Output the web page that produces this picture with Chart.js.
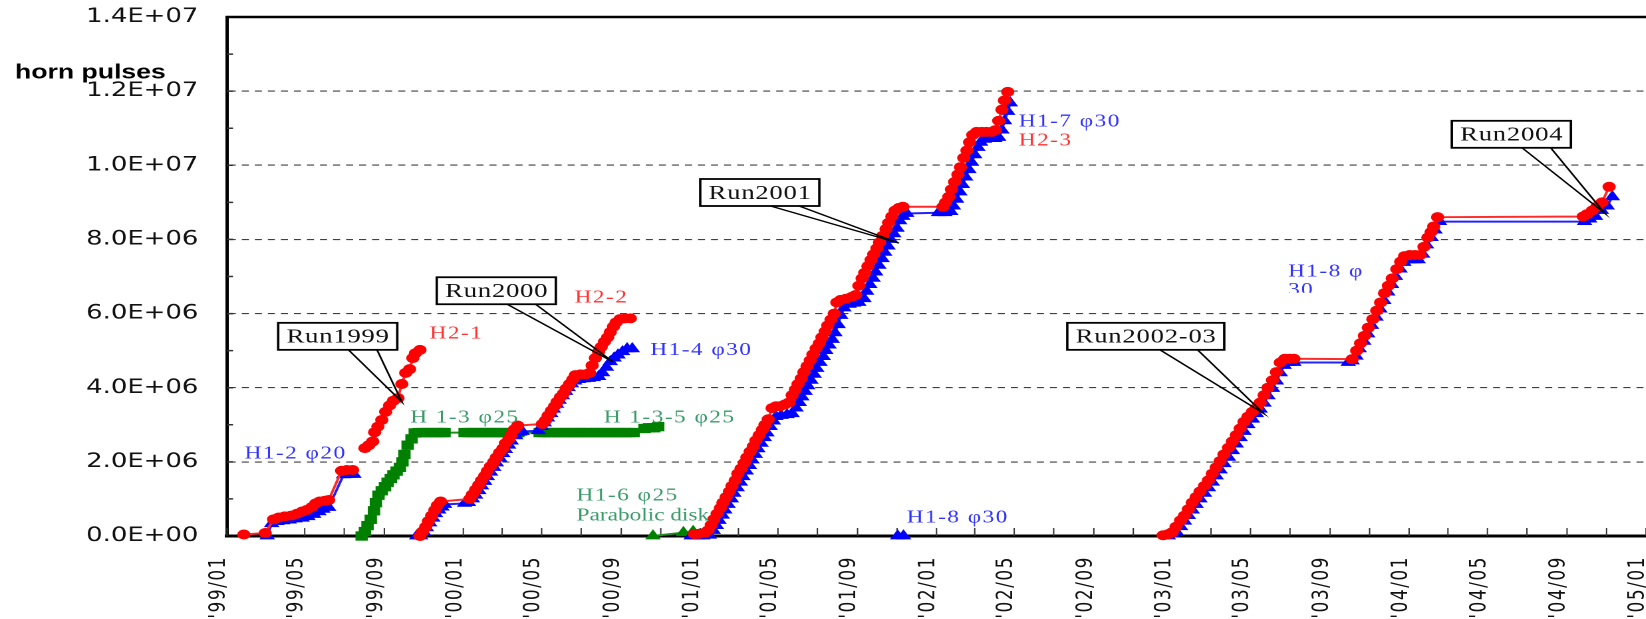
<!DOCTYPE html>
<html>
<head>
<meta charset="utf-8">
<script src="https://cdn.jsdelivr.net/npm/chart.js@4.4.1/dist/chart.umd.min.js"></script>
<style>
	html, body { margin: 0; padding: 0; background: #fff; overflow: hidden; }
	#wrap { width: 1260px; height: 619px; transform: scaleX(1.33); transform-origin: 0 0; }
</style>
</head>
<body>
<div id="wrap"><canvas id="pulses" width="1260" height="619"></canvas></div>
<script>
// x = days since 1999-01-01, y = accumulated horn pulses in units of 10^6
const h2_1 = [[26,0.04],[59,0.08],[72,0.45],[80,0.50],[89,0.53],[99,0.55],[108,0.60],[116,0.66],[123,0.70],[131,0.78],[137,0.88],[143,0.93],[151,0.95],[157,0.97],[177,1.76],[185,1.78],[194,1.78],[204,null],
	[213,2.37],[219,2.45],[225,2.55],[228,2.80],[233,2.95],[239,3.13],[245,3.35],[251,3.52],[257,3.65],[264,3.72],[270,4.10],[276,4.40],[282,4.50],[287,4.80],[291,4.93],[298,5.02]];
const h1_2 = [[62,0],[69,0.33],[77,0.39],[86,0.41],[96,0.43],[105,0.46],[116,0.48],[125,0.52],[134,0.58],[142,0.65],[148,0.72],[157,0.77],[180,1.65],[188,1.66],[196,1.66]];
const h1_3 = [[208,0],[213,0.12],[217,0.28],[222,0.45],[227,0.68],[230,0.9],[234,1.1],[239,1.22],[244,1.33],[248,1.45],[253,1.55],[257,1.65],[262,1.75],[267,1.85],[271,2.0],[274,2.2],[279,2.45],[285,2.62],[290,2.78],
	[296,2.79],[302,2.79],[308,2.79],[315,2.79],[321,2.79],[327,2.79],[333,2.79],[336,2.79],
	[367,2.79],[373,2.79],[379,2.79],[385,2.79],[392,2.79],[398,2.79],[404,2.79],[410,2.79],[416,2.79],[422,2.79],[429,2.79],[435,2.79],[441,2.79],[447,2.79],[450,2.79],
	[483,2.79],[489,2.79],[495,2.79],[501,2.79],[507,2.79],[513,2.79],[520,2.79],[526,2.79],[532,2.79],[538,2.79],[544,2.79],[547,2.79],
	[554,2.79],[560,2.79],[566,2.79],[572,2.79],[578,2.79],[584,2.79],[591,2.79],[597,2.79],[603,2.79],[609,2.79],[615,2.79],[621,2.79],[628,2.79],
	[645,2.90],[652,2.92],[660,2.92],[666,2.95]];
const h2_2 = [[298,0],[302,0.12],[307,0.25],[311,0.4],[316,0.55],[321,0.7],[325,0.83],[330,0.93],[375,1.0],[379,1.12],[384,1.25],[389,1.38],[393,1.5],[398,1.62],[402,1.75],[407,1.88],[412,2.0],[416,2.12],[421,2.25],[426,2.36],[430,2.5],[435,2.6],[439,2.72],[444,2.88],[449,2.98],
	[487,3.02],[492,3.12],[496,3.25],[501,3.38],[506,3.5],[510,3.62],[515,3.75],[520,3.85],[524,3.98],[529,4.1],[534,4.22],[538,4.34],[546,4.36],[554,4.36],[560,4.4],[564,4.6],[569,4.8],[574,4.97],[578,5.1],[583,5.24],[588,5.36],[592,5.5],[597,5.65],[601,5.76],[607,5.85],[615,5.87],[623,5.87]];
const h1_4 = [[293,0],[299,0],[304,0.1],[308,0.22],[313,0.35],[318,0.48],[322,0.6],[327,0.7],[332,0.78],[336,0.85],[367,0.88],[373,0.9],[379,1.0],[384,1.1],[389,1.22],[393,1.35],[398,1.47],[402,1.6],[407,1.72],[412,1.85],[416,1.97],[421,2.1],[426,2.22],[430,2.33],[435,2.45],[439,2.56],[446,2.7],[452,2.8],[456,2.82],
	[481,2.84],[486,2.95],[490,3.05],[495,3.18],[500,3.3],[504,3.42],[509,3.55],[513,3.66],[518,3.78],[523,3.9],[527,4.0],[532,4.1],[537,4.18],[543,4.22],[550,4.24],[558,4.25],[566,4.27],[574,4.3],[580,4.4],[586,4.55],[592,4.7],[598,4.8],[604,4.88],[611,4.97],[618,5.05],[626,5.05]];
const h1_6 = [[658,0],[705,0.09],[720,0.12]];
const h2_3 = [[722,0.05],[729,0.06],[737,0.08],[743,0.15],[748,0.3],[752,0.45],[757,0.6],[762,0.75],[766,0.9],[771,1.05],[776,1.2],[780,1.35],[785,1.5],[789,1.68],[794,1.82],[799,1.97],[803,2.12],[808,2.28],[813,2.42],[817,2.58],[822,2.72],[827,2.87],[831,3.0],[836,3.15],[842,3.45],[848,3.5],[854,3.5],[862,3.55],[868,3.6],
	[873,3.8],[878,3.95],[882,4.1],[887,4.25],[891,4.42],[896,4.58],[901,4.74],[905,4.9],[910,5.06],[915,5.2],[919,5.36],[924,5.52],[928,5.68],[933,5.84],[938,6.0],[942,6.3],[948,6.37],[956,6.4],[965,6.45],[971,6.5],
	[976,6.75],[981,6.95],[985,7.1],[990,7.28],[995,7.45],[999,7.6],[1004,7.76],[1008,7.92],[1013,8.1],[1018,8.28],[1022,8.45],[1027,8.62],[1032,8.78],[1038,8.85],[1044,8.88],[1106,8.88],
	[1110,9.0],[1115,9.15],[1119,9.35],[1124,9.55],[1129,9.75],[1133,9.95],[1138,10.2],[1143,10.4],[1147,10.62],[1152,10.82],[1158,10.9],[1166,10.9],[1173,10.9],[1181,10.9],[1187,10.95],[1192,11.2],[1197,11.5],[1201,11.75],[1206,11.98]];
const h1_7 = [[717,0],[726,0],[735,0],[745,0.02],[751,0.15],[756,0.28],[760,0.42],[765,0.56],[769,0.7],[774,0.85],[779,1.0],[783,1.15],[788,1.3],[793,1.45],[797,1.6],[802,1.75],[807,1.9],[811,2.05],[816,2.2],[820,2.35],[825,2.5],[830,2.65],[834,2.78],[839,2.95],[844,3.1],[848,3.22],[856,3.25],[865,3.27],[873,3.3],
	[879,3.45],[884,3.6],[888,3.75],[893,3.9],[897,4.05],[902,4.2],[907,4.36],[911,4.52],[916,4.68],[921,4.84],[925,5.0],[930,5.15],[935,5.3],[939,5.48],[944,5.7],[948,5.95],[953,6.15],[961,6.25],[968,6.28],[976,6.3],
	[984,6.4],[988,6.6],[993,6.78],[998,6.95],[1002,7.12],[1007,7.3],[1012,7.48],[1016,7.65],[1021,7.82],[1025,8.0],[1030,8.15],[1035,8.3],[1039,8.5],[1044,8.62],[1050,8.7],[1099,8.72],[1109,8.72],[1118,8.75],
	[1122,8.9],[1127,9.08],[1132,9.28],[1136,9.48],[1141,9.68],[1146,9.88],[1150,10.08],[1155,10.28],[1160,10.48],[1164,10.62],[1170,10.7],[1178,10.72],[1186,10.72],[1192,10.75],[1197,10.95],[1201,11.2],[1206,11.45],[1210,11.68]];
const h2_2003 = [[1446,0.02],[1454,0.05],[1460,0.1],[1466,0.25],[1473,0.42],[1479,0.55],[1485,0.72],[1491,0.9],[1497,1.05],[1503,1.2],[1510,1.35],[1516,1.5],[1522,1.68],[1528,1.85],[1534,2.02],[1540,2.2],[1547,2.38],[1553,2.55],[1559,2.72],[1565,2.9],[1571,3.08],[1577,3.22],[1584,3.35],[1590,3.45],[1596,3.6],[1602,3.8],[1608,4.0],[1615,4.2],[1621,4.42],[1627,4.68],[1634,4.78],[1642,4.78],[1648,4.78],
	[1738,4.77],[1745,5.0],[1751,5.2],[1757,5.4],[1763,5.62],[1770,5.85],[1776,6.08],[1782,6.3],[1788,6.55],[1794,6.75],[1800,6.95],[1807,7.2],[1813,7.4],[1819,7.55],[1827,7.58],[1835,7.58],[1843,7.58],[1849,7.8],[1855,8.05],[1860,8.2],[1864,8.35],[1870,8.6],
	[2095,8.62],[2101,8.68],[2109,8.78],[2116,8.88],[2124,9.0],[2135,9.42]];
const h1_8 = [[1036,0],[1045,0],[1300,null],
	[1454,0],[1460,0.05],[1466,0.12],[1473,0.25],[1479,0.4],[1485,0.55],[1491,0.7],[1497,0.85],[1503,1.0],[1510,1.15],[1516,1.3],[1522,1.45],[1528,1.62],[1534,1.78],[1540,1.95],[1547,2.12],[1553,2.3],[1559,2.48],[1565,2.65],[1571,2.82],[1577,3.0],[1584,3.15],[1590,3.3],[1596,3.42],[1602,3.58],[1608,3.78],[1615,3.98],[1621,4.18],[1627,4.4],[1633,4.6],[1640,4.68],[1648,4.68],
	[1732,4.68],[1738,4.72],[1744,4.85],[1749,5.05],[1756,5.25],[1762,5.45],[1768,5.68],[1775,5.9],[1781,6.12],[1787,6.35],[1793,6.58],[1799,6.78],[1805,7.0],[1812,7.2],[1818,7.38],[1826,7.45],[1833,7.45],[1840,7.45],[1847,7.6],[1853,7.85],[1860,8.05],[1866,8.25],[1873,8.48],
	[2097,8.48],[2105,8.55],[2114,8.62],[2123,8.78],[2132,8.9],[2140,9.15]];

const xTickDates = ['1999-01-01', '1999-05-01', '1999-09-01', '2000-01-01', '2000-05-01', '2000-09-01', '2001-01-01', '2001-05-01', '2001-09-01', '2002-01-01',
	'2002-05-01', '2002-09-01', '2003-01-01', '2003-05-01', '2003-09-01', '2004-01-01', '2004-05-01', '2004-09-01', '2005-01-01'];
const xTickLabels = ["'99/01", "'99/05", "'99/09", "'00/01", "'00/05", "'00/09", "'01/01", "'01/05", "'01/09", "'02/01",
	"'02/05", "'02/09", "'03/01", "'03/05", "'03/09", "'04/01", "'04/05", "'04/09", "'05/01"];

// callout boxes: top-left corner and tip, in (day, 10^6 pulses)
const callouts = [
	{ text: 'Run1999', day: 79, pulses: 5.75, tipDay: 270, tipPulses: 3.62 },
	{ text: 'Run2000', day: 324, pulses: 6.98, tipDay: 596, tipPulses: 4.70 },
	{ text: 'Run2001', day: 731, pulses: 9.63, tipDay: 1038, tipPulses: 7.90 },
	{ text: 'Run2002-03', day: 1298, pulses: 5.75, tipDay: 1601, tipPulses: 3.31 },
	{ text: 'Run2004', day: 1892, pulses: 11.2, tipDay: 2128, tipPulses: 8.71 }
];

const RED = '#ff0000', BLUE = '#0000ff', GREEN = '#008000';
const LBL_RED = '#ff3333', LBL_BLUE = '#3333ff', LBL_GREEN = '#3a9a6a';

const hornLabels = [
	{ text: 'H1-2 φ20', color: LBL_BLUE, day: 27, pulses: 2.21 },
	{ text: 'H2-1', color: LBL_RED, day: 313, pulses: 5.45 },
	{ text: 'H2-2', color: LBL_RED, day: 537, pulses: 6.42 },
	{ text: 'H1-4 φ30', color: LBL_BLUE, day: 654, pulses: 5.0 },
	{ text: 'H 1-3 φ25', color: LBL_GREEN, day: 283, pulses: 3.18 },
	{ text: 'H 1-3-5 φ25', color: LBL_GREEN, day: 582, pulses: 3.18 },
	{ text: 'H1-6 φ25', color: LBL_GREEN, day: 540, pulses: 1.08 },
	{ text: 'Parabolic disk', color: LBL_GREEN, day: 540, pulses: 0.54, spacing: 0 },
	{ text: 'H1-8 φ30', color: LBL_BLUE, day: 1050, pulses: 0.49 },
	{ text: 'H1-7 φ30', color: LBL_BLUE, day: 1223, pulses: 11.17 },
	{ text: 'H2-3', color: LBL_RED, day: 1223, pulses: 10.66 },
	{ text: 'H1-8 φ', color: LBL_BLUE, day: 1639, pulses: 7.13 },
	{ text: '30', color: LBL_BLUE, day: 1639, pulses: 6.62, clipTo: 6.56 }
];

const DAY0 = Date.UTC(1999, 0, 1);
const MS_DAY = 86400000;
const daysSince = s => (Date.parse(s + 'T00:00:00Z') - DAY0) / MS_DAY;

function series(label, pts, color, style, radius, lineColor) {
	return {
		label,
		data: pts.map(([d, v]) => ({ x: d, y: v === null ? null : v * 1e6 })),
		borderColor: lineColor,
		backgroundColor: color,
		borderWidth: 2,
		pointStyle: style,
		pointRadius: radius,
		pointBackgroundColor: color,
		pointBorderWidth: 0,
		spanGaps: false,
		clip: false
	};
}

function sciLabel(v) {
	const [m, e] = v.toExponential(1).split('e');
	const n = Math.abs(Number(e));
	return m.toUpperCase() + 'E' + (Number(e) < 0 ? '-' : '+') + (n < 10 ? '0' : '') + n;
}

const decorations = {
	id: 'decorations',
	beforeDraw(chart) {
		chart.ctx.letterSpacing = '0px';
	},
	beforeDatasetsDraw(chart) {
		const { ctx, chartArea: a, scales: { x, y } } = chart;
		ctx.save();
		// inner tick marks, every 2 months and every 10^6 pulses
		ctx.strokeStyle = '#333';
		ctx.lineWidth = 1;
		ctx.beginPath();
		for (let m = 0; m <= 72; m += 2) {
			const px = x.getPixelForValue((Date.UTC(1999, m, 1) - DAY0) / MS_DAY);
			ctx.moveTo(px, a.bottom);
			ctx.lineTo(px, a.bottom - 8);
		}
		ctx.stroke();
		ctx.lineWidth = 1.5;
		ctx.beginPath();
		for (let v = 1e6; v < 1.4e7; v += 1e6) {
			const py = y.getPixelForValue(v);
			ctx.moveTo(a.left, py);
			ctx.lineTo(a.left + 4.5, py);
		}
		ctx.stroke();
		// top frame line
		ctx.strokeStyle = '#000';
		ctx.lineWidth = 2.5;
		ctx.beginPath();
		ctx.moveTo(a.left - 1, a.top);
		ctx.lineTo(a.right + 40, a.top);
		ctx.stroke();
		ctx.restore();
	},
	afterDatasetsDraw(chart) {
		// x labels are drawn after the datasets (ticks.z = 1)
		chart.ctx.letterSpacing = '1.5px';
	},
	afterDraw(chart) {
		const { ctx, scales: { x, y } } = chart;
		ctx.save();
		ctx.letterSpacing = '0px';

		ctx.fillStyle = '#000';
		ctx.font = 'bold 20px "Liberation Sans", Arial, sans-serif';
		ctx.textAlign = 'left';
		ctx.textBaseline = 'alphabetic';
		ctx.fillText('horn pulses', 11.3, 78.5);

		ctx.font = '20px "Liberation Serif", serif';
		ctx.letterSpacing = '0.6px';
		callouts.forEach(c => {
			const w = ctx.measureText(c.text).width + 12;
			const h = 27;
			const left = x.getPixelForValue(c.day);
			const top = y.getPixelForValue(c.pulses * 1e6);
			const tx = x.getPixelForValue(c.tipDay);
			const ty = y.getPixelForValue(c.tipPulses * 1e6);
			ctx.strokeStyle = '#000';
			ctx.lineWidth = 1.4;
			ctx.beginPath();
			ctx.moveTo(left + w * 0.59, top + h);
			ctx.lineTo(tx, ty);
			ctx.lineTo(left + w * 0.83, top + h);
			ctx.stroke();
			ctx.fillStyle = '#fff';
			ctx.fillRect(left, top, w, h);
			ctx.lineWidth = 1.8;
			ctx.strokeRect(left, top, w, h);
			ctx.fillStyle = '#111';
			ctx.textBaseline = 'middle';
			ctx.textAlign = 'center';
			ctx.fillText(c.text, left + w / 2 + 0.3, top + h / 2 + 1);
		});

		ctx.font = '17.5px "Liberation Serif", serif';
		ctx.textAlign = 'left';
		ctx.textBaseline = 'middle';
		hornLabels.forEach(l => {
			ctx.save();
			ctx.letterSpacing = (l.spacing !== undefined ? l.spacing : 1.1) + 'px';
			const px = x.getPixelForValue(l.day);
			const py = y.getPixelForValue(l.pulses * 1e6);
			if (l.clipTo !== undefined) {
				const cy = y.getPixelForValue(l.clipTo * 1e6);
				ctx.beginPath();
				ctx.rect(px - 5, cy - 40, 200, 40);
				ctx.clip();
			}
			ctx.fillStyle = l.color;
			ctx.fillText(l.text, px, py);
			ctx.restore();
		});
		ctx.restore();
	}
};

const datasets = [
	series('H2-1', h2_1, RED, 'circle', 5, '#ff2a2a'),
	series('H2-2', h2_2, RED, 'circle', 5, '#ff2a2a'),
	series('H2-3', h2_3, RED, 'circle', 5, '#ff2a2a'),
	series('H2 2003', h2_2003, RED, 'circle', 5, '#ff2a2a'),
	series('H1-2 φ20', h1_2, BLUE, 'triangle', 6.8, '#2222ff'),
	series('H1-4 φ30', h1_4, BLUE, 'triangle', 6.8, '#2222ff'),
	series('H1-7 φ30', h1_7, BLUE, 'triangle', 6.8, '#2222ff'),
	series('H1-8 φ30', h1_8, BLUE, 'triangle', 6.8, '#2222ff'),
	series('H1-3 φ25', h1_3, GREEN, 'rect', 6.6, '#1d8c1d'),
	series('H1-6 φ25', h1_6, GREEN, 'triangle', 6.8, '#1d8c1d')
];

new Chart(document.getElementById('pulses'), {
	type: 'line',
	data: { datasets },
	options: {
		responsive: false,
		animation: false,
		devicePixelRatio: 2,
		events: [],
		layout: { padding: { top: 17, right: 22.4, left: 0, bottom: 0 } },
		plugins: { legend: { display: false }, tooltip: { enabled: false } },
		scales: {
			x: {
				type: 'linear',
				min: 0,
				max: daysSince('2005-01-01'),
				afterFit: scale => {
					scale.height = 83;
					scale.paddingLeft = 0;
					scale.paddingRight = 0;
				},
				afterBuildTicks: scale => { scale.ticks = xTickDates.map(d => ({ value: daysSince(d) })); },
				grid: { display: true, drawOnChartArea: false, drawTicks: false },
				border: { display: true, color: '#000', width: 3 },
				ticks: {
					autoSkip: false,
					minRotation: 90,
					maxRotation: 90,
					padding: 20,
					labelOffset: -6,
					z: 1,
					color: '#111',
					font: { family: '"DejaVu Sans", sans-serif', size: 17 },
					callback: (value, index) => xTickLabels[index]
				}
			},
			y: {
				min: 0,
				max: 1.4e7,
				afterFit: scale => {
					scale.width = 170.7;
					scale.paddingTop = 0;
					scale.paddingBottom = 0;
				},
				grid: {
					drawTicks: false,
					lineWidth: 1.1,
					color: ctx => (ctx.tick && ctx.tick.value > 0 && ctx.tick.value < 1.4e7) ? '#404040' : 'rgba(0,0,0,0)'
				},
				border: { display: true, color: '#000', width: 2.5, dash: [5.3, 4.5] },
				ticks: {
					stepSize: 2e6,
					padding: 21.5,
					color: '#111',
					font: { family: '"DejaVu Sans", sans-serif', size: 19.5 },
					callback: v => sciLabel(v)
				}
			}
		}
	},
	plugins: [decorations]
});
</script>
</body>
</html>
